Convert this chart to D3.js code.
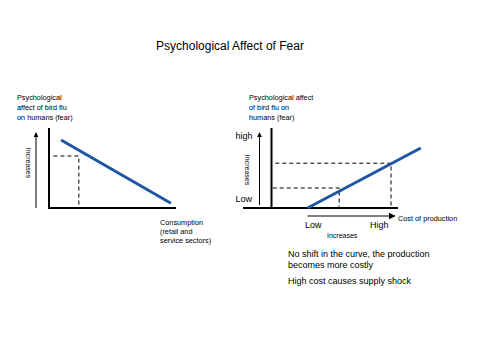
<!DOCTYPE html>
<html><head><meta charset="utf-8">
<script src="https://cdn.jsdelivr.net/npm/d3@7"></script>
<style>body{margin:0;background:#fff}svg{display:block}text{font-family:"Liberation Sans",Arial,sans-serif;fill:#000}</style>
</head><body><div id="c"></div>
<script>
const title = "Psychological Affect of Fear";
// Left chart: demand-like line (consumption vs fear), domain units 0..10
const leftLine = [{x:0.95,y:8.5},{x:9.6,y:0.6}];
const leftDash = {x:2.35,y:6.5};
const leftYLabel = ["Psychological","affect of bird flu","on humans (fear)"];
const leftXLabel = ["Consumption","(retail and","service sectors)"];
// Right chart: supply-like line
const rightLine = [{x:2.85,y:0},{x:11.8,y:7.5}];
const rightDash = [{x:5.35,y:2.5},{x:9.45,y:5.6}];
const rightYLabel = ["Psychological affect","of bird flu on","humans (fear)"];
const rightXLabel = ["Cost of production"];
const yTicks = ["high","Low"];
const xTicks = ["Low","High"];
const notes = ["No shift in the curve, the production","becomes more costly","High cost causes supply shock"];

const W=479,H=360;
const svg=d3.select("#c").append("svg").attr("width",W).attr("height",H);
const defs=svg.append("defs");
defs.append("marker").attr("id","ab").attr("viewBox","0 0 10 10").attr("refX",9).attr("refY",5)
 .attr("markerWidth",5).attr("markerHeight",5).attr("orient","auto-start-reverse")
 .append("path").attr("d","M0,0L10,5L0,10Z").attr("fill","#000");
defs.append("marker").attr("id","ag").attr("viewBox","0 0 10 10").attr("refX",9).attr("refY",5)
 .attr("markerWidth",3.5).attr("markerHeight",3.5).attr("orient","auto")
 .append("path").attr("d","M0,0L10,5L0,10Z").attr("fill","#000");

svg.append("text").attr("x",230).attr("y",50).attr("text-anchor","middle").style("font-size","12px").text(title);

const blue="#1f56a3";
const small="7.3px";
function lines(g,arr,x,y0,dy,size){
  arr.forEach((t,i)=>g.append("text").attr("x",x).attr("y",y0+i*dy).style("font-size",size).text(t));
}

// LEFT
{
 const x=d3.scaleLinear().domain([0,10]).range([49,176]);
 const y=d3.scaleLinear().domain([0,10]).range([208,128]);
 const g=svg.append("g");
 g.append("line").attr("x1",x(0)).attr("x2",x(0)).attr("y1",y(10)).attr("y2",y(0)).attr("stroke","#000").attr("stroke-width",2);
 g.append("line").attr("x1",x(0)-1).attr("x2",x(10)).attr("y1",y(0)).attr("y2",y(0)).attr("stroke","#000").attr("stroke-width",2);
 g.append("line").attr("x1",36).attr("x2",36).attr("y1",y(0)).attr("y2",y(9.4)).attr("stroke","#000").attr("stroke-width",1).attr("marker-end","url(#ab)");
 g.append("text").attr("transform",`translate(26,163) rotate(90)`).attr("text-anchor","middle").style("font-size","7px").text("Increases");
 g.append("path").attr("d",`M${x(0.35)},${y(leftDash.y)}H${x(leftDash.x)}V${y(0)}`).attr("fill","none").attr("stroke","#000").attr("stroke-width",1).attr("stroke-dasharray","4,3");
 g.append("line").attr("x1",x(leftLine[0].x)).attr("y1",y(leftLine[0].y)).attr("x2",x(leftLine[1].x)).attr("y2",y(leftLine[1].y)).attr("stroke",blue).attr("stroke-width",3);
 lines(g,leftYLabel,17,100,10,small);
 lines(g,leftXLabel,160,224.5,9,small);
}
// RIGHT
{
 const x=d3.scaleLinear().domain([0,10]).range([271.5,398]);
 const y=d3.scaleLinear().domain([0,10]).range([208,128]);
 const g=svg.append("g");
 g.append("line").attr("x1",x(0)).attr("x2",x(0)).attr("y1",y(10)).attr("y2",y(0)).attr("stroke","#000").attr("stroke-width",2);
 g.append("line").attr("x1",243).attr("x2",x(10)).attr("y1",y(0)).attr("y2",y(0)).attr("stroke","#000").attr("stroke-width",2);
 g.append("line").attr("x1",259.5).attr("x2",259.5).attr("y1",205).attr("y2",y(9.4)).attr("stroke","#000").attr("stroke-width",1).attr("marker-end","url(#ab)");
 g.append("text").attr("transform",`translate(245,170) rotate(90)`).attr("text-anchor","middle").style("font-size","7px").text("Increases");
 g.append("text").attr("x",235.5).attr("y",139).style("font-size","9px").text(yTicks[0]);
 g.append("text").attr("x",235.5).attr("y",202).style("font-size","9px").text(yTicks[1]);
 rightDash.forEach((d,i)=>{
   g.append("path").attr("d",`M${x(i?0.3:0.1)},${y(d.y)}H${x(d.x)}V${y(0)}`).attr("fill","none").attr("stroke","#000").attr("stroke-width",1).attr("stroke-dasharray","4,3");
 });
 g.append("line").attr("x1",x(rightLine[0].x)).attr("y1",y(rightLine[0].y)).attr("x2",x(rightLine[1].x)).attr("y2",y(rightLine[1].y)).attr("stroke",blue).attr("stroke-width",3);
 g.append("line").attr("x1",x(2.85)).attr("x2",x(9.75)).attr("y1",216).attr("y2",216).attr("stroke","#808080").attr("stroke-width",2).attr("marker-end","url(#ag)");
 g.append("text").attr("x",398).attr("y",221).style("font-size",small).text(rightXLabel[0]);
 g.append("text").attr("x",305).attr("y",228).style("font-size","9px").text(xTicks[0]);
 g.append("text").attr("x",370).attr("y",228).style("font-size","9px").text(xTicks[1]);
 g.append("text").attr("x",327).attr("y",238).style("font-size","7px").text("Increases");
 lines(g,rightYLabel,249,100,10,small);
 g.append("text").attr("x",288).attr("y",257).style("font-size","9px").text(notes[0]);
 g.append("text").attr("x",288).attr("y",268).style("font-size","9px").text(notes[1]);
 g.append("text").attr("x",288).attr("y",284).style("font-size","9px").text(notes[2]);
}
</script></body></html>
